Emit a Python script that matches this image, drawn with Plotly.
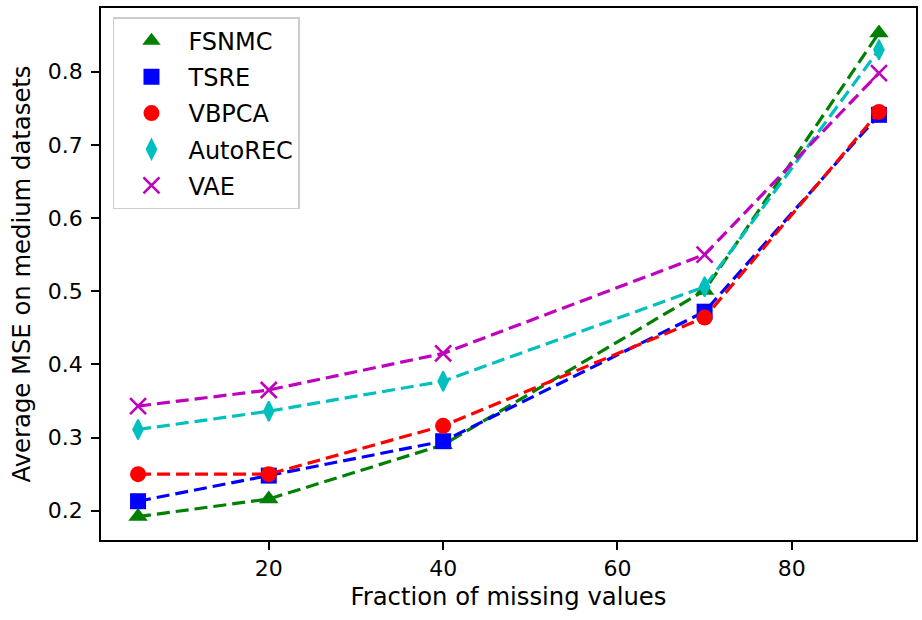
import plotly.graph_objects as go

x_vals = [5, 20, 40, 70, 90]
series_names = ["FSNMC", "TSRE", "VBPCA", "AutoREC", "VAE"]
fsnmc = [0.192, 0.216, 0.290, 0.501, 0.853]
tsre = [0.213, 0.248, 0.295, 0.472, 0.741]
vbpca = [0.250, 0.250, 0.316, 0.464, 0.745]
autorec = [0.311, 0.336, 0.377, 0.506, 0.830]
vae = [0.343, 0.365, 0.415, 0.550, 0.798]
x_ticks = [20, 40, 60, 80]
y_ticks = [0.2, 0.3, 0.4, 0.5, 0.6, 0.7, 0.8]

colors = ["#008000", "#0000ff", "#ff0000", "#00bfbf", "#bf00bf"]
symbols = ["triangle-up", "square", "circle", "diamond-tall", "x-thin-open"]
sizes = [17, 16, 16, 14, 16]
data = [fsnmc, tsre, vbpca, autorec, vae]

FONT = "DejaVu Sans"
TICK = 22
TITLE = 24.3
fig = go.Figure()
for i, (name, ys) in enumerate(zip(series_names, data)):
    fig.add_trace(go.Scatter(
        x=x_vals, y=ys, mode="lines", showlegend=False,
        line=dict(color=colors[i], width=3.2, dash="13px,6px"),
        hoverinfo="skip",
    ))
    mk = dict(color=colors[i], size=sizes[i], symbol=symbols[i])
    if symbols[i] == "x-thin-open":
        mk["line"] = dict(color=colors[i], width=2.6)
    elif symbols[i] == "diamond-tall":
        mk["line"] = dict(color=colors[i], width=1.8)
    fig.add_trace(go.Scatter(
        x=x_vals, y=ys, mode="markers", name=name, legendgroup=name,
        marker=mk,
    ))

fig.update_layout(
    width=922, height=620,
    margin=dict(l=101, r=4, t=8, b=80),
    paper_bgcolor="white", plot_bgcolor="white",
    font=dict(family=FONT, size=TICK, color="black"),
    legend=dict(
        x=0.0147, y=0.983, xanchor="left", yanchor="top",
        bgcolor="rgba(255,255,255,0.8)", bordercolor="#cccccc", borderwidth=1.5,
        font=dict(family=FONT, size=24, color="black"),
        itemwidth=64, tracegroupgap=2,
    ),
    xaxis=dict(
        range=[0.75, 94.25], tickvals=x_ticks, ticks="outside", ticklen=8, tickwidth=1.9,
        tickcolor="black", showline=True, linecolor="black", linewidth=1.9, mirror=True,
        showgrid=False, zeroline=False,
        title=dict(text="Fraction of missing values", font=dict(size=TITLE), standoff=8),
        tickfont=dict(size=TICK),
    ),
    yaxis=dict(
        range=[0.16, 0.887], tickvals=y_ticks, ticktext=[f"{v:.1f}" for v in y_ticks],
        ticks="outside", ticklen=8, tickwidth=1.9, ticklabelstandoff=4,
        tickcolor="black", showline=True, linecolor="black", linewidth=1.9, mirror=True,
        showgrid=False, zeroline=False,
        title=dict(text="Average MSE on medium datasets", font=dict(size=TITLE), standoff=10),
        tickfont=dict(size=TICK),
    ),
)

fig.write_html("out.html")
